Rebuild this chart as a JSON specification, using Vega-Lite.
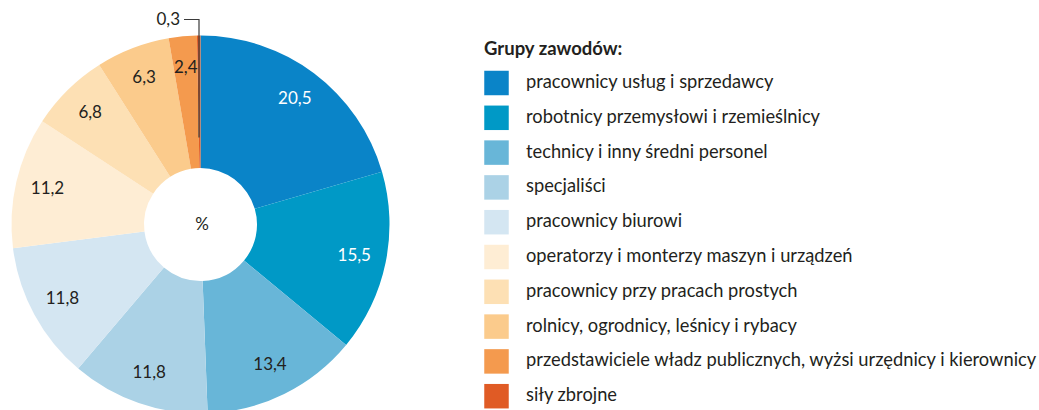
{
  "$schema": "https://vega.github.io/schema/vega-lite/v6.json",
  "width": 401,
  "height": 449,
  "padding": 0,
  "autosize": {"type": "pad"},
  "background": "white",
  "config": {
    "view": {"stroke": null},
    "font": "Lato",
    "locale": {"number": {"decimal": ",", "thousands": " ", "grouping": [3], "currency": ["", " zł"]}}
  },
  "datasets": {
    "grupy": [
      {"grupa": "pracownicy usług i sprzedawcy", "wartosc": 20.5, "kolej": 1},
      {"grupa": "robotnicy przemysłowi i rzemieślnicy", "wartosc": 15.5, "kolej": 2},
      {"grupa": "technicy i inny średni personel", "wartosc": 13.4, "kolej": 3},
      {"grupa": "specjaliści", "wartosc": 11.8, "kolej": 4},
      {"grupa": "pracownicy biurowi", "wartosc": 11.8, "kolej": 5},
      {"grupa": "operatorzy i monterzy maszyn i urządzeń", "wartosc": 11.2, "kolej": 6},
      {"grupa": "pracownicy przy pracach prostych", "wartosc": 6.8, "kolej": 7},
      {"grupa": "rolnicy, ogrodnicy, leśnicy i rybacy", "wartosc": 6.3, "kolej": 8},
      {"grupa": "przedstawiciele władz publicznych, wyżsi urzędnicy i kierownicy", "wartosc": 2.4, "kolej": 9},
      {"grupa": "siły zbrojne", "wartosc": 0.3, "kolej": 10}
    ],
    "odnosnik": [
      {"px": -16.5, "py": 205, "k": 1},
      {"px": -1.5, "py": 205, "k": 2},
      {"px": -1.5, "py": 87, "k": 3}
    ],
    "srodek": [{"px": 1.5, "py": 0, "t": "%"}]
  },
  "layer": [
    {
      "data": {"name": "grupy"},
      "mark": {"type": "arc", "outerRadius": 189, "innerRadius": 56.5},
      "encoding": {
        "theta": {"field": "wartosc", "type": "quantitative", "stack": true},
        "order": {"field": "kolej", "type": "quantitative"},
        "color": {
          "field": "grupa",
          "type": "nominal",
          "scale": {
            "domain": [
              "pracownicy usług i sprzedawcy",
              "robotnicy przemysłowi i rzemieślnicy",
              "technicy i inny średni personel",
              "specjaliści",
              "pracownicy biurowi",
              "operatorzy i monterzy maszyn i urządzeń",
              "pracownicy przy pracach prostych",
              "rolnicy, ogrodnicy, leśnicy i rybacy",
              "przedstawiciele władz publicznych, wyżsi urzędnicy i kierownicy",
              "siły zbrojne"
            ],
            "range": ["#0a84c8", "#0099c6", "#68b6d8", "#abd2e6", "#d4e6f2", "#feedd4", "#fde0b4", "#fbcb8c", "#f49a4e", "#e05b25"]
          },
          "legend": {
            "title": "Grupy zawodów:",
            "orient": "none",
            "legendX": 484,
            "legendY": 40,
            "padding": 0,
            "titleFontSize": 18.5,
            "titleFontWeight": "bold",
            "titleColor": "#231f20",
            "titlePadding": 12,
            "symbolType": "square",
            "symbolSize": 600,
            "symbolStrokeWidth": 0,
            "symbolOpacity": 1,
            "labelFontSize": 18.3,
            "labelColor": "#231f20",
            "labelOffset": 17,
            "labelLimit": 700,
            "rowPadding": 9.8
          }
        }
      }
    },
    {
      "data": {"name": "grupy"},
      "transform": [{"filter": "datum.wartosc >= 1"}],
      "mark": {"type": "text", "radius": 157, "fontSize": 17, "align": "center", "baseline": "middle"},
      "encoding": {
        "theta": {"field": "wartosc", "type": "quantitative", "stack": true},
        "order": {"field": "kolej", "type": "quantitative"},
        "text": {"field": "wartosc", "type": "quantitative", "format": ".1f"},
        "color": {"condition": {"test": "datum.kolej <= 2", "value": "white"}, "value": "#231f20"}
      }
    },
    {
      "data": {"name": "odnosnik"},
      "mark": {"type": "line", "color": "#3a3a3a", "strokeWidth": 1.2, "interpolate": "linear"},
      "encoding": {
        "x": {"field": "px", "type": "quantitative", "axis": null, "scale": {"domain": [-200.5, 200.5], "nice": false, "zero": false}},
        "y": {"field": "py", "type": "quantitative", "axis": null, "scale": {"domain": [-224.5, 224.5], "nice": false, "zero": false}},
        "order": {"field": "k", "type": "quantitative"}
      }
    },
    {
      "data": {"name": "grupy"},
      "transform": [{"filter": "datum.wartosc < 1"}],
      "mark": {"type": "text", "fontSize": 17, "align": "right", "baseline": "middle", "color": "#231f20", "dx": -4},
      "encoding": {
        "x": {"datum": -16.5, "type": "quantitative"},
        "y": {"datum": 205, "type": "quantitative"},
        "text": {"field": "wartosc", "type": "quantitative", "format": ".1f"}
      }
    },
    {
      "data": {"name": "srodek"},
      "mark": {"type": "text", "fontSize": 17, "align": "center", "baseline": "middle", "color": "#231f20"},
      "encoding": {
        "x": {"field": "px", "type": "quantitative"},
        "y": {"field": "py", "type": "quantitative"},
        "text": {"field": "t"}
      }
    }
  ]
}
